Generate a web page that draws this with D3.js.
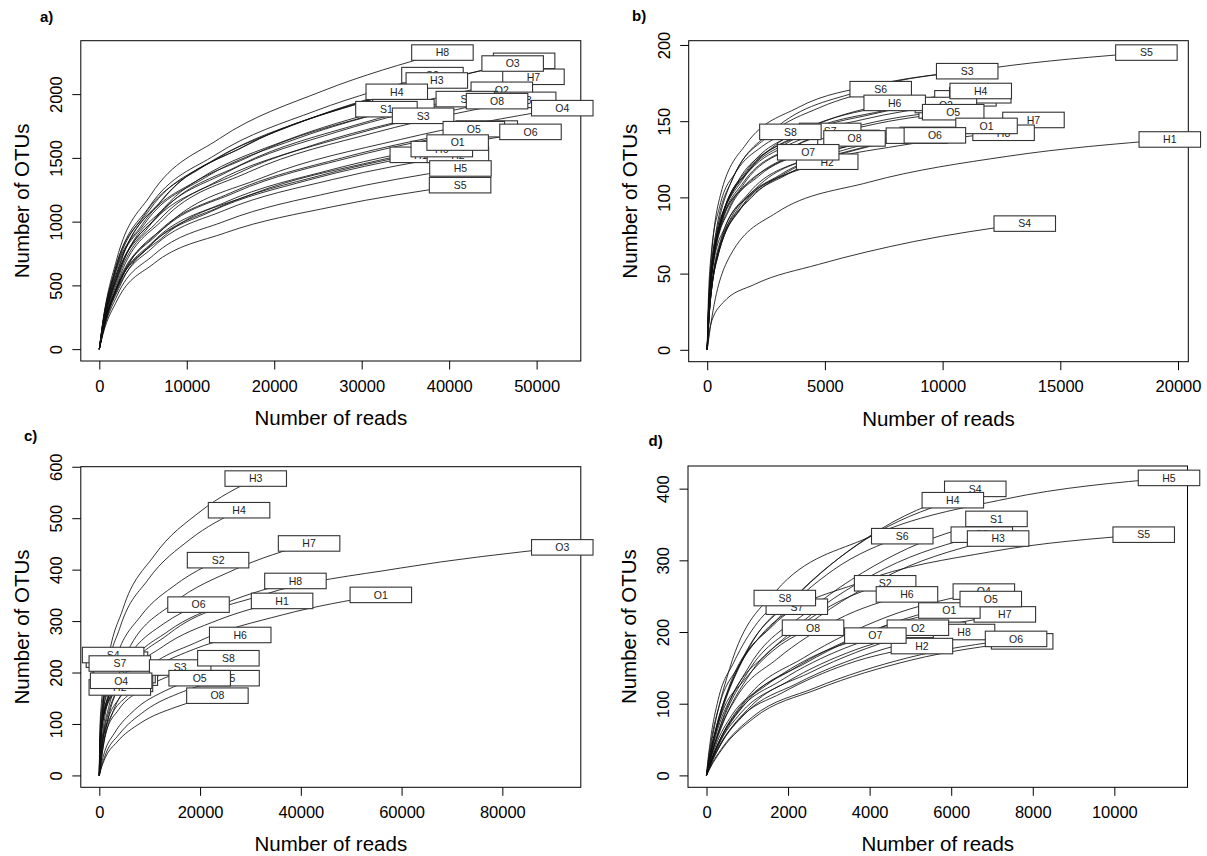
<!DOCTYPE html>
<html>
<head>
<meta charset="utf-8">
<script src="https://cdn.jsdelivr.net/npm/d3@7"></script>
<style>
    body { margin: 0; background: #fff; }
    svg { display: block; font-family: 'Liberation Sans', Arial, sans-serif; }
</style>
</head>
<body>
<div id="chart"></div>
<script>
// each curve point sits at this share of the sample's total reads
const depthFractions = [0.01, 0.05, 0.15, 0.35, 0.65];

// a)
const namesA = ['S2', 'H8', 'O7', 'H7', 'O3', 'H3', 'H4', 'O2', 'S6', 'S8', 'O8', 'O4', 'S7', 'S1', 'S3', 'S4', 'O5', 'O6', 'H1', 'H2', 'H6', 'O1', 'H5', 'S5'];
const readsA = [38090, 39230, 48570, 49640, 47260, 38590, 34010, 46020, 42020, 48690, 45480, 52935, 34770, 32830, 37020, 44300, 42820, 49300, 36760, 41000, 39160, 40970, 41290, 41250];
const otusA = [2149, 2326, 2261, 2136, 2240, 2107, 2018, 2034, 1961, 1955, 1945, 1890, 1898, 1882, 1830, 1730, 1725, 1704, 1524, 1524, 1569, 1620, 1417, 1286];
const curvesA = [
    [193, 645, 1117, 1526, 1870], [209, 698, 1210, 1651, 2024], [203, 678, 1176, 1605, 1967],
    [192, 641, 1111, 1517, 1858], [202, 672, 1165, 1590, 1949], [190, 632, 1096, 1496, 1833],
    [182, 605, 1049, 1433, 1756], [183, 610, 1058, 1444, 1770], [176, 588, 1020, 1392, 1706],
    [176, 587, 1017, 1388, 1701], [175, 584, 1011, 1381, 1692], [170, 567, 983, 1342, 1644],
    [171, 569, 987, 1348, 1651], [169, 565, 979, 1336, 1637], [165, 549, 952, 1299, 1592],
    [156, 519, 900, 1228, 1505], [155, 518, 897, 1225, 1501], [153, 511, 886, 1210, 1482],
    [137, 457, 792, 1082, 1326], [140, 465, 800, 1090, 1330], [141, 471, 816, 1114, 1365],
    [146, 486, 842, 1150, 1409], [128, 425, 737, 1006, 1233], [116, 386, 669, 913, 1119]
];
const xTicksA = [0, 10000, 20000, 30000, 40000, 50000];
const yTicksA = [0, 500, 1000, 1500, 2000];

// b)
const namesB = ['H3', 'H5', 'S2', 'O3', 'S1', 'O2', 'S5', 'S3', 'S6', 'H6', 'H4', 'O5', 'H7', 'H8', 'O1', 'S7', 'S8', 'O8', 'O4', 'O6', 'H2', 'O7', 'H1', 'S4'];
const readsB = [10300, 9500, 6000, 10970, 11600, 10140, 18657, 11045, 7370, 7965, 11620, 10450, 13860, 12590, 11866, 5225, 3534, 6258, 8908, 9672, 5098, 4290, 19651, 13490];
const otusB = [157, 141, 139, 165, 167, 160.6, 195, 182.8, 171, 162, 169.8, 155.9, 150.8, 142.4, 146.9, 143.6, 143, 138.7, 140.5, 140.7, 123.4, 129.6, 138, 82.8];
const curvesB = [
    [35, 79, 110, 133, 148], [25, 63, 93, 116, 131], [25, 63, 92, 114, 129],
    [36, 83, 116, 140, 155], [37, 84, 117, 142, 157], [35, 80, 112, 137, 151],
    [49, 107, 144, 170, 185], [46, 101, 135, 159, 174], [31, 77, 113, 140, 159],
    [29, 73, 107, 133, 151], [37, 85, 119, 144, 160], [34, 78, 109, 133, 147],
    [33, 75, 106, 128, 142], [31, 71, 100, 121, 134], [32, 73, 103, 125, 138],
    [26, 65, 95, 118, 134], [26, 64, 94, 117, 133], [25, 62, 92, 114, 129],
    [25, 63, 93, 115, 131], [25, 63, 93, 115, 131], [22, 56, 81, 101, 115],
    [23, 58, 86, 106, 121], [21, 62, 90, 110, 127], [16, 31, 43, 56, 71]
];
const xTicksB = [0, 5000, 10000, 15000, 20000];
const yTicksB = [0, 50, 100, 150, 200];

// c)
const namesC = ['H3', 'H4', 'H7', 'S2', 'O3', 'H8', 'O1', 'H1', 'O6', 'H6', 'S1', 'S4', 'O2', 'O7', 'S5', 'S6', 'S7', 'S3', 'H2', 'O4', 'S8', 'H5', 'O5', 'O8'];
const readsC = [31050, 27740, 41640, 23570, 91900, 38930, 55880, 36280, 19690, 27970, 3500, 2740, 4670, 5460, 5000, 4500, 4070, 16050, 4070, 4330, 25620, 25650, 19920, 23440];
const otusC = [577, 515.5, 450.9, 418.4, 443.3, 378, 350.9, 339.2, 332, 273, 225, 234, 206, 190, 195, 178, 217.5, 209.7, 171, 184, 227.8, 189, 189, 155];
const curvesC = [
    [69, 208, 323, 427, 514], [62, 186, 289, 381, 459], [54, 162, 253, 334, 401],
    [50, 151, 234, 310, 372], [66, 186, 275, 350, 403], [45, 136, 212, 280, 336],
    [42, 126, 197, 260, 312], [41, 122, 190, 251, 302], [40, 120, 186, 246, 295],
    [33, 98, 153, 202, 243], [34, 90, 135, 176, 205], [35, 94, 140, 183, 213],
    [31, 82, 124, 161, 187], [29, 76, 114, 148, 173], [29, 78, 117, 152, 177],
    [27, 71, 107, 139, 162], [33, 87, 131, 170, 198], [25, 75, 117, 155, 187],
    [26, 68, 103, 133, 156], [28, 74, 110, 144, 167], [27, 82, 128, 169, 203],
    [11, 42, 79, 125, 163], [12, 44, 82, 127, 164], [9, 34, 65, 102, 133]
];
const xTicksC = [0, 20000, 40000, 60000, 80000];
const yTicksC = [0, 100, 200, 300, 400, 500, 600];

// d)
const namesD = ['S4', 'H4', 'H5', 'S1', 'S3', 'H3', 'S6', 'S5', 'S2', 'H6', 'O4', 'H7', 'O1', 'O5', 'S7', 'S8', 'H1', 'H8', 'O2', 'H2', 'O7', 'O8', 'O3', 'O6'];
const readsD = [6590, 6040, 11340, 7110, 6750, 7150, 4800, 10720, 4380, 4915, 6800, 7315, 5955, 6970, 2215, 1920, 5600, 6315, 5183, 5282, 4140, 2612, 7740, 7590];
const otusD = [399.7, 383.9, 415, 357.8, 335.8, 330.4, 333.7, 335.8, 268, 252.5, 256.4, 224.6, 230, 246, 235.3, 247.4, 203, 200, 206, 180.4, 195, 206, 187, 190.4];
const curvesD = [
    [20, 80, 172, 256, 344], [19, 77, 165, 246, 330], [42, 149, 257, 332, 386],
    [18, 72, 154, 229, 308], [17, 67, 144, 215, 289], [17, 66, 142, 211, 284],
    [17, 67, 143, 214, 287], [34, 121, 208, 269, 312], [13, 54, 115, 172, 230],
    [13, 51, 109, 162, 217], [13, 51, 110, 164, 221], [11, 45, 97, 144, 193],
    [12, 46, 99, 147, 198], [12, 49, 106, 157, 212], [12, 47, 101, 151, 202],
    [12, 49, 106, 158, 213], [10, 41, 87, 130, 175], [10, 40, 86, 128, 172],
    [10, 41, 89, 132, 177], [9, 36, 78, 115, 155], [10, 39, 84, 125, 168],
    [10, 41, 89, 132, 177], [9, 37, 80, 120, 161], [10, 38, 82, 122, 164]
];
const xTicksD = [0, 2000, 4000, 6000, 8000, 10000];
const yTicksD = [0, 100, 200, 300, 400];

const panels = [
    { tag: 'a)', tagAt: [40, 22], frame: { left: 80.8, top: 40.7, right: 580.8, bottom: 361 },
      names: namesA, reads: readsA, otus: otusA, curves: curvesA, xTicks: xTicksA, yTicks: yTicksA },
    { tag: 'b)', tagAt: [632, 20.5], frame: { left: 688.7, top: 40.7, right: 1188.3, bottom: 361.7 },
      names: namesB, reads: readsB, otus: otusB, curves: curvesB, xTicks: xTicksB, yTicks: yTicksB },
    { tag: 'c)', tagAt: [24, 441], frame: { left: 80.8, top: 466.7, right: 580.8, bottom: 787.3 },
      names: namesC, reads: readsC, otus: otusC, curves: curvesC, xTicks: xTicksC, yTicks: yTicksC },
    { tag: 'd)', tagAt: [648.5, 445.5], frame: { left: 688, top: 466, right: 1187.5, bottom: 787.3 },
      names: namesD, reads: readsD, otus: otusD, curves: curvesD, xTicks: xTicksD, yTicks: yTicksD }
];

const width = 1207;
const height = 856;
const boxW = 61.5;
const boxH = 15.5;

const svg = d3
    .select('#chart')
    .append('svg')
    .attr('width', width)
    .attr('height', height)
    .attr('viewBox', [0, 0, width, height]);

svg.append('rect').attr('width', width).attr('height', height).attr('fill', '#fff');

const drawPanel = (p) => {
    const { left, top, right, bottom } = p.frame;
    const xMax = d3.max(p.reads);
    const yMax = d3.max(p.otus);

    // R style axis limits: data range padded by 4% each side
    const x = d3.scaleLinear().domain([-0.04 * xMax, 1.04 * xMax]).range([left, right]);
    const y = d3.scaleLinear().domain([-0.04 * yMax, 1.04 * yMax]).range([bottom, top]);

    const series = p.names.map((name, i) => ({
        name,
        reads: p.reads[i],
        otus: p.otus[i],
        points: [
            [0, 0],
            ...p.curves[i].map((v, k) => [depthFractions[k] * p.reads[i], v]),
            [p.reads[i], p.otus[i]],
        ],
    }));

    const line = d3
        .line()
        .x((d) => x(d[0]))
        .y((d) => y(d[1]))
        .curve(d3.curveMonotoneX);

    const g = svg.append('g');

    g.append('g')
        .attr('fill', 'none')
        .attr('stroke', '#111')
        .attr('stroke-width', 0.85)
        .selectAll('path')
        .data(series)
        .join('path')
        .attr('d', (d) => line(d.points));

    // x axis
    g.append('g')
        .attr('transform', `translate(0,${bottom})`)
        .call(d3.axisBottom(x).tickValues(p.xTicks).tickSize(8.5).tickSizeOuter(0).tickFormat(d3.format('d')))
        .call((ax) => ax.select('.domain').remove())
        .attr('font-size', null)
        .attr('font-family', null)
        .call((ax) => ax.selectAll('text')
            .attr('y', 30.5)
            .attr('dy', 0)
            .attr('fill', '#000')
            .style('font-size', '16.5px'));

    // y axis, labels turned like R's las = 0
    g.append('g')
        .attr('transform', `translate(${left},0)`)
        .call(d3.axisLeft(y).tickValues(p.yTicks).tickSize(8.5).tickSizeOuter(0).tickFormat(d3.format('d')))
        .call((ax) => ax.select('.domain').remove())
        .attr('font-size', null)
        .attr('font-family', null)
        .call((ax) => ax.selectAll('text')
            .attr('x', 0)
            .attr('dy', 0)
            .attr('text-anchor', 'middle')
            .attr('fill', '#000')
            .attr('transform', 'translate(-19,0) rotate(-90)')
            .style('font-size', '16.5px'));

    g.append('rect')
        .attr('x', left)
        .attr('y', top)
        .attr('width', right - left)
        .attr('height', bottom - top)
        .attr('fill', 'none')
        .attr('stroke', '#000')
        .attr('stroke-width', 1);

    // boxed sample labels centred on the curve ends
    const labels = g
        .append('g')
        .selectAll('g')
        .data(series)
        .join('g')
        .attr('transform', (d) => `translate(${x(d.reads)},${y(d.otus)})`);

    labels
        .append('rect')
        .attr('x', -boxW / 2)
        .attr('y', -boxH / 2)
        .attr('width', boxW)
        .attr('height', boxH)
        .attr('fill', '#fff')
        .attr('stroke', '#333')
        .attr('stroke-width', 1.1);

    labels
        .append('text')
        .attr('text-anchor', 'middle')
        .attr('dy', '0.36em')
        .attr('fill', '#222')
        .style('font-size', '10.5px')
        .text((d) => d.name);

    svg.append('text')
        .attr('x', (left + right) / 2)
        .attr('y', bottom + 64)
        .attr('text-anchor', 'middle')
        .style('font-size', '20.5px')
        .text('Number of reads');

    svg.append('text')
        .attr('transform', `translate(${left - 52},${(top + bottom) / 2}) rotate(-90)`)
        .attr('text-anchor', 'middle')
        .style('font-size', '20.5px')
        .text('Number of OTUs');

    svg.append('text')
        .attr('x', p.tagAt[0])
        .attr('y', p.tagAt[1])
        .style('font-size', '15px')
        .style('font-weight', 'bold')
        .text(p.tag);
};

panels.forEach(drawPanel);
</script>
</body>
</html>
